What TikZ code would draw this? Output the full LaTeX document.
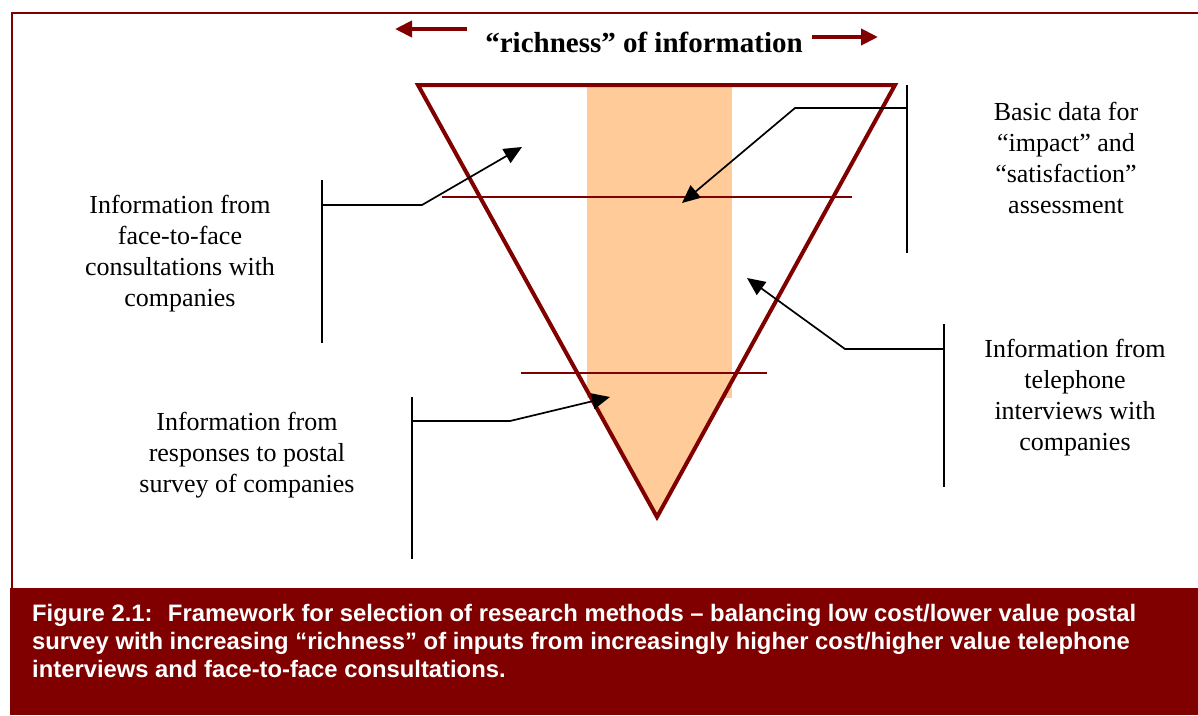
\documentclass[tikz,border=0pt]{standalone}
\usepackage{fontspec}
\setmainfont{Liberation Serif}
\setsansfont{Liberation Sans}
\usetikzlibrary{arrows.meta}
\definecolor{maroon}{HTML}{800000}
\definecolor{peach}{HTML}{FFCC99}

\begin{document}
\begin{tikzpicture}[x=1pt, y=-1pt,
  infotext/.style={align=center, font=\fontsize{26}{31}\selectfont},
  bar/.style={draw=black, line width=1.7pt},
  pointer/.style={bar, -{Triangle[length=18pt, width=16pt]}},
  divider/.style={draw=maroon, line width=1.6pt},
  richarrow/.style={draw=maroon, line width=4pt, -{Triangle[length=17pt, width=16pt]}}]
\useasboundingbox (0,0) rectangle (1198,715);

% frame and caption band
\draw[maroon, line width=2pt] (12,588) -- (12,13) -- (1198,13);
\fill[maroon] (10,588) rectangle (1198,715);
\node[anchor=north west, text=white, align=left, inner sep=0pt,
  font=\sffamily\bfseries\fontsize{23.8}{28}\selectfont] (caption) at (32,604)
  {Figure 2.1:~ Framework for selection of research methods – balancing low cost/lower value postal\\
   survey with increasing “richness” of inputs from increasingly higher cost/higher value telephone\\
   interviews and face-to-face consultations.};

% title with arrows
\node[font=\bfseries\fontsize{29}{34}\selectfont] (title) at (644,42) {“richness” of information};
\coordinate (lstart) at (467,29);
\coordinate (lend) at (395,29);
\coordinate (rstart) at (812,37);
\coordinate (rend) at (878,37);
\draw[richarrow] (lstart) -- (lend);
\draw[richarrow] (rstart) -- (rend);

% funnel
\coordinate (tl) at (418,85);
\coordinate (tr) at (895,85);
\coordinate (apex) at (657,517);
\fill[peach] (587,85) rectangle (732,398);
\begin{scope}
  \clip (0,390) rectangle (1198,600);
  \fill[peach] (tl) -- (tr) -- (apex) -- cycle;
\end{scope}
\draw[divider] (442,197) -- (852,197);
\draw[divider] (521,373) -- (767,373);
\draw[maroon, line width=4pt] (tl) -- (tr) -- (apex) -- cycle;

% labels
\node[infotext] (face) at (180,254) {Information from\\face-to-face\\consultations with\\companies};
\node[infotext] (basic) at (1066,158) {Basic data for\\“impact” and\\“satisfaction”\\assessment};
\node[infotext] (phone) at (1075,398) {Information from\\telephone\\interviews with\\companies};
\node[infotext] (postal) at (247,455) {Information from\\responses to postal\\survey of companies};

% callouts
\coordinate (facetop) at (322,180);
\coordinate (facebot) at (322,343);
\coordinate (facemid) at (322,205);
\coordinate (facebend) at (422,205);
\coordinate (facetip) at (522,147);
\draw[bar] (facetop) -- (facebot);
\draw[pointer] (facemid) -- (facebend) -- (facetip);

\coordinate (basictop) at (907,85);
\coordinate (basicbot) at (907,253);
\coordinate (basicmid) at (907,108);
\coordinate (basicbend) at (795,108);
\coordinate (basictip) at (682,203);
\draw[bar] (basictop) -- (basicbot);
\draw[pointer] (basicmid) -- (basicbend) -- (basictip);

\coordinate (phonetop) at (944,324);
\coordinate (phonebot) at (944,487);
\coordinate (phonemid) at (944,349);
\coordinate (phonebend) at (845,349);
\coordinate (phonetip) at (747,278);
\draw[bar] (phonetop) -- (phonebot);
\draw[pointer] (phonemid) -- (phonebend) -- (phonetip);

\coordinate (postaltop) at (412,397);
\coordinate (postalbot) at (412,559);
\coordinate (postalmid) at (412,421);
\coordinate (postalbend) at (510,421);
\coordinate (postaltip) at (610,397);
\draw[bar] (postaltop) -- (postalbot);
\draw[pointer] (postalmid) -- (postalbend) -- (postaltip);
\end{tikzpicture}
\end{document}
